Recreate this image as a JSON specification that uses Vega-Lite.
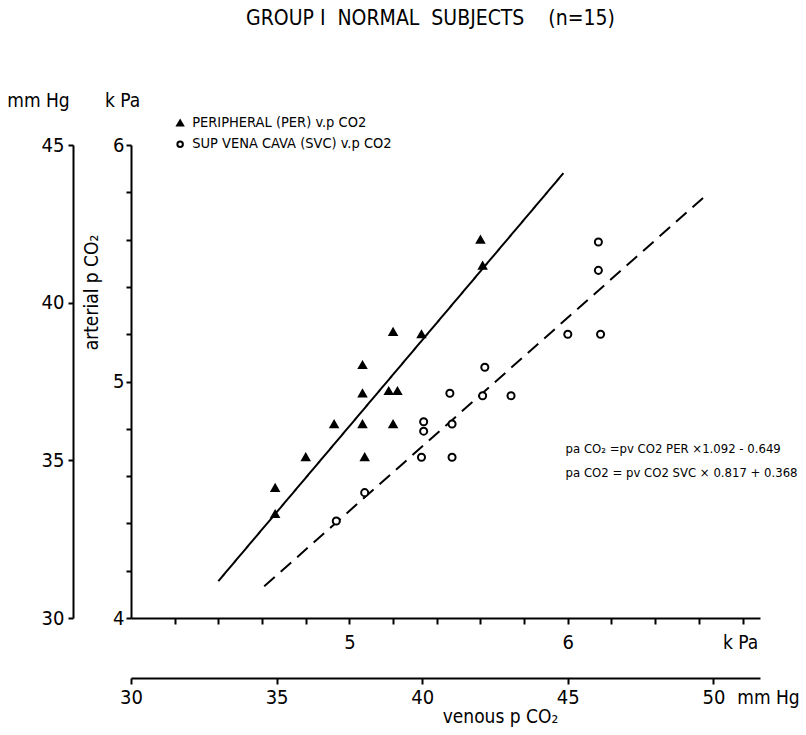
{
  "$schema": "https://vega.github.io/schema/vega-lite/v6.json",
  "width": 629,
  "height": 473,
  "autosize": {"type": "none"},
  "padding": {"left": 131, "top": 145, "right": 46, "bottom": 117},
  "background": "white",
  "title": {
    "text": "GROUP I\u00a0\u00a0NORMAL\u00a0\u00a0SUBJECTS\u00a0\u00a0\u00a0\u00a0(n=15)",
    "frame": "group",
    "anchor": "middle",
    "offset": 62,
    "dx": -15,
    "fontSize": 21,
    "fontWeight": "normal",
    "font": "DejaVu Sans Condensed, Liberation Sans Narrow, Roboto Condensed, Roboto, sans-serif",
    "color": "black"
  },
  "config": {
    "view": {"stroke": null},
    "font": "DejaVu Sans Condensed, Liberation Sans Narrow, Roboto Condensed, Roboto, sans-serif",
    "axis": {
      "grid": false,
      "domainColor": "black",
      "domainWidth": 2,
      "tickColor": "black",
      "tickWidth": 2,
      "tickSize": 5,
      "labelColor": "black",
      "labelFont": "DejaVu Sans Condensed, Liberation Sans Narrow, Roboto Condensed, Roboto, sans-serif",
      "labelFontSize": 20,
      "titleFont": "DejaVu Sans Condensed, Liberation Sans Narrow, Roboto Condensed, Roboto, sans-serif",
      "titleFontSize": 19,
      "titleFontWeight": "normal",
      "titleColor": "black",
      "labelFlush": false,
      "labelOverlap": false
    }
  },
  "datasets": {
    "points": [
      {"series": "PERIPHERAL (PER) v.p CO2", "venous": 5.60, "arterial": 5.60},
      {"series": "PERIPHERAL (PER) v.p CO2", "venous": 5.61, "arterial": 5.49},
      {"series": "PERIPHERAL (PER) v.p CO2", "venous": 5.20, "arterial": 5.21},
      {"series": "PERIPHERAL (PER) v.p CO2", "venous": 5.33, "arterial": 5.20},
      {"series": "PERIPHERAL (PER) v.p CO2", "venous": 5.06, "arterial": 5.07},
      {"series": "PERIPHERAL (PER) v.p CO2", "venous": 5.06, "arterial": 4.95},
      {"series": "PERIPHERAL (PER) v.p CO2", "venous": 5.18, "arterial": 4.96},
      {"series": "PERIPHERAL (PER) v.p CO2", "venous": 5.22, "arterial": 4.96},
      {"series": "PERIPHERAL (PER) v.p CO2", "venous": 4.93, "arterial": 4.82},
      {"series": "PERIPHERAL (PER) v.p CO2", "venous": 5.06, "arterial": 4.82},
      {"series": "PERIPHERAL (PER) v.p CO2", "venous": 5.20, "arterial": 4.82},
      {"series": "PERIPHERAL (PER) v.p CO2", "venous": 4.80, "arterial": 4.68},
      {"series": "PERIPHERAL (PER) v.p CO2", "venous": 5.07, "arterial": 4.68},
      {"series": "PERIPHERAL (PER) v.p CO2", "venous": 4.66, "arterial": 4.55},
      {"series": "PERIPHERAL (PER) v.p CO2", "venous": 4.66, "arterial": 4.44},
      {"series": "SUP VENA CAVA (SVC) v.p CO2", "venous": 6.14, "arterial": 5.59},
      {"series": "SUP VENA CAVA (SVC) v.p CO2", "venous": 6.14, "arterial": 5.47},
      {"series": "SUP VENA CAVA (SVC) v.p CO2", "venous": 6.00, "arterial": 5.20},
      {"series": "SUP VENA CAVA (SVC) v.p CO2", "venous": 6.15, "arterial": 5.20},
      {"series": "SUP VENA CAVA (SVC) v.p CO2", "venous": 5.62, "arterial": 5.06},
      {"series": "SUP VENA CAVA (SVC) v.p CO2", "venous": 5.46, "arterial": 4.95},
      {"series": "SUP VENA CAVA (SVC) v.p CO2", "venous": 5.61, "arterial": 4.94},
      {"series": "SUP VENA CAVA (SVC) v.p CO2", "venous": 5.74, "arterial": 4.94},
      {"series": "SUP VENA CAVA (SVC) v.p CO2", "venous": 5.34, "arterial": 4.83},
      {"series": "SUP VENA CAVA (SVC) v.p CO2", "venous": 5.34, "arterial": 4.79},
      {"series": "SUP VENA CAVA (SVC) v.p CO2", "venous": 5.47, "arterial": 4.82},
      {"series": "SUP VENA CAVA (SVC) v.p CO2", "venous": 5.33, "arterial": 4.68},
      {"series": "SUP VENA CAVA (SVC) v.p CO2", "venous": 5.47, "arterial": 4.68},
      {"series": "SUP VENA CAVA (SVC) v.p CO2", "venous": 5.07, "arterial": 4.53},
      {"series": "SUP VENA CAVA (SVC) v.p CO2", "venous": 4.94, "arterial": 4.41}
    ],
    "fits": [
      {"series": "PERIPHERAL (PER) v.p CO2", "venous": 4.40, "arterial": 4.156},
      {"series": "PERIPHERAL (PER) v.p CO2", "venous": 5.98, "arterial": 5.881},
      {"series": "SUP VENA CAVA (SVC) v.p CO2", "venous": 4.61, "arterial": 4.134},
      {"series": "SUP VENA CAVA (SVC) v.p CO2", "venous": 6.62, "arterial": 5.777}
    ],
    "keys": [
      {"series": "PERIPHERAL (PER) v.p CO2"},
      {"series": "SUP VENA CAVA (SVC) v.p CO2"}
    ]
  },
  "layer": [
    {
      "data": {"name": "fits"},
      "mark": {"type": "line", "color": "black", "strokeWidth": 2},
      "encoding": {
        "x": {
          "field": "venous", "type": "quantitative",
          "scale": {"domain": [4, 6.88], "nice": false, "zero": false},
          "axis": {
            "orient": "bottom", "offset": 60,
            "values": [4, 4.666667, 5.333333, 6, 6.666667],
            "labelExpr": "format(datum.value * 7.5, '.0f')",
            "tickSize": 6, "labelPadding": 3,
            "title": "venous p CO₂",
            "titleX": 369, "titleY": 38,
            "titleAlign": "center", "titleBaseline": "middle"
          }
        },
        "y": {
          "field": "arterial", "type": "quantitative",
          "scale": {"domain": [4, 6], "nice": false, "zero": false},
          "axis": {
            "orient": "left", "offset": 58,
            "values": [4, 4.666667, 5.333333, 6],
            "labelExpr": "format(datum.value * 7.5, '.0f')",
            "tickSize": 5, "labelPadding": 4,
            "title": "mm Hg",
            "titleAngle": 0,
            "titleX": -35, "titleY": -45,
            "titleAlign": "center", "titleBaseline": "middle"
          }
        },
        "detail": {"field": "series", "type": "nominal"},
        "strokeDash": {
          "field": "series", "type": "nominal",
          "scale": {"domain": ["PERIPHERAL (PER) v.p CO2", "SUP VENA CAVA (SVC) v.p CO2"], "range": [[1, 0], [14, 8]]},
          "legend": null
        }
      }
    },
    {
      "data": {"name": "points"},
      "mark": {"type": "point", "filled": true, "stroke": "black", "strokeWidth": 2, "opacity": 1, "size": 50},
      "encoding": {
        "x": {
          "field": "venous", "type": "quantitative",
          "scale": {"domain": [4, 6.88], "nice": false, "zero": false},
          "axis": {
            "orient": "bottom", "offset": 0,
            "values": [4.2, 4.4, 4.6, 4.8, 5.0, 5.2, 5.4, 5.6, 5.8, 6.0, 6.2, 6.4, 6.6, 6.8],
            "labelExpr": "abs(datum.value - round(datum.value)) < 0.01 ? format(datum.value, '.0f') : ''",
            "tickSize": 6, "labelPadding": 8,
            "title": "k Pa",
            "titleX": 609, "titleY": 24,
            "titleAlign": "center", "titleBaseline": "middle"
          }
        },
        "y": {
          "field": "arterial", "type": "quantitative",
          "scale": {"domain": [4, 6], "nice": false, "zero": false},
          "axis": {
            "orient": "left", "offset": 0,
            "values": [4, 4.2, 4.4, 4.6, 4.8, 5.0, 5.2, 5.4, 5.6, 5.8, 6.0],
            "labelExpr": "abs(datum.value - round(datum.value)) < 0.01 ? format(datum.value, '.0f') : ''",
            "tickSize": 5, "labelPadding": 2,
            "title": "arterial p CO₂",
            "titleAngle": -90,
            "titleX": -40, "titleY": 147,
            "titleAlign": "center", "titleBaseline": "middle"
          }
        },
        "shape": {
          "field": "series", "type": "nominal",
          "scale": {"domain": ["PERIPHERAL (PER) v.p CO2", "SUP VENA CAVA (SVC) v.p CO2"], "range": ["triangle-up", "circle"]},
          "legend": null
        },
        "fill": {
          "field": "series", "type": "nominal",
          "scale": {"domain": ["PERIPHERAL (PER) v.p CO2", "SUP VENA CAVA (SVC) v.p CO2"], "range": ["black", "white"]},
          "legend": null
        }
      }
    },
    {
      "data": {"name": "keys"},
      "transform": [{"filter": "datum.series == 'PERIPHERAL (PER) v.p CO2'"}],
      "encoding": {
        "y": {
          "datum": 6.093, "type": "quantitative",
          "scale": {"domain": [4, 6], "nice": false, "zero": false},
          "axis": null
        }
      },
      "layer": [
        {
          "mark": {"type": "point", "filled": true, "stroke": "black", "strokeWidth": 2, "opacity": 1, "size": 36},
          "encoding": {
            "x": {"datum": 4.225, "type": "quantitative", "scale": {"domain": [4, 6.88], "nice": false, "zero": false}, "axis": null},
            "shape": {"field": "series", "type": "nominal", "legend": null},
            "fill": {"field": "series", "type": "nominal", "legend": null}
          }
        },
        {
          "mark": {"type": "text", "align": "left", "baseline": "middle", "fontSize": 14.5, "color": "black"},
          "encoding": {
            "x": {"datum": 4.28, "type": "quantitative", "scale": {"domain": [4, 6.88], "nice": false, "zero": false}, "axis": null},
            "text": {"field": "series", "type": "nominal"}
          }
        }
      ]
    },
    {
      "data": {"name": "keys"},
      "transform": [{"filter": "datum.series == 'SUP VENA CAVA (SVC) v.p CO2'"}],
      "encoding": {
        "y": {
          "datum": 6.003, "type": "quantitative",
          "scale": {"domain": [4, 6], "nice": false, "zero": false},
          "axis": null
        }
      },
      "layer": [
        {
          "mark": {"type": "point", "filled": true, "stroke": "black", "strokeWidth": 2, "opacity": 1, "size": 30},
          "encoding": {
            "x": {"datum": 4.225, "type": "quantitative", "scale": {"domain": [4, 6.88], "nice": false, "zero": false}, "axis": null},
            "shape": {"field": "series", "type": "nominal", "legend": null},
            "fill": {"field": "series", "type": "nominal", "legend": null}
          }
        },
        {
          "mark": {"type": "text", "align": "left", "baseline": "middle", "fontSize": 14.5, "color": "black"},
          "encoding": {
            "x": {"datum": 4.28, "type": "quantitative", "scale": {"domain": [4, 6.88], "nice": false, "zero": false}, "axis": null},
            "text": {"field": "series", "type": "nominal"}
          }
        }
      ]
    },
    {
      "data": {"values": [{"label": "pa CO₂ =pv CO2  PER ×1.092 - 0.649"}]},
      "mark": {"type": "text", "align": "left", "baseline": "middle", "fontSize": 13, "color": "black"},
      "encoding": {
        "x": {
          "datum": 5.99, "type": "quantitative",
          "scale": {"domain": [4, 6.88], "nice": false, "zero": false},
          "axis": {
            "orient": "bottom", "offset": 60,
            "domain": false, "ticks": false, "labels": false,
            "title": "mm Hg",
            "titleX": 637, "titleY": 19,
            "titleAlign": "center", "titleBaseline": "middle"
          }
        },
        "y": {
          "datum": 4.714, "type": "quantitative",
          "scale": {"domain": [4, 6], "nice": false, "zero": false},
          "axis": {
            "orient": "left", "offset": 0,
            "domain": false, "ticks": false, "labels": false,
            "title": "k Pa",
            "titleAngle": 0,
            "titleX": -9, "titleY": -45,
            "titleAlign": "center", "titleBaseline": "middle"
          }
        },
        "text": {"field": "label", "type": "nominal"}
      }
    },
    {
      "data": {"values": [{"label": "pa CO2 = pv CO2  SVC × 0.817 + 0.368"}]},
      "mark": {"type": "text", "align": "left", "baseline": "middle", "fontSize": 13, "color": "black"},
      "encoding": {
        "x": {
          "datum": 5.99, "type": "quantitative",
          "scale": {"domain": [4, 6.88], "nice": false, "zero": false},
          "axis": null
        },
        "y": {
          "datum": 4.612, "type": "quantitative",
          "scale": {"domain": [4, 6], "nice": false, "zero": false},
          "axis": null
        },
        "text": {"field": "label", "type": "nominal"}
      }
    }
  ],
  "resolve": {"axis": {"x": "independent", "y": "independent"}}
}
